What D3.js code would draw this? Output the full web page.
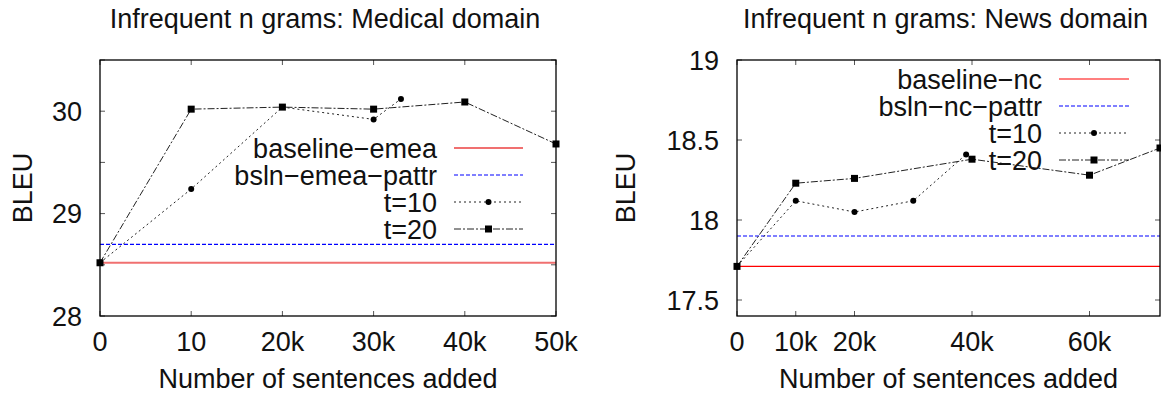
<!DOCTYPE html>
<html>
<head>
<meta charset="utf-8">
<script src="https://cdn.jsdelivr.net/npm/d3@7"></script>
<style>
  body { margin: 0; background: #fff; }
  svg text { font-family: "Liberation Sans", Arial, Helvetica, sans-serif; fill: #111; }
</style>
</head>
<body>
<svg id="chart" width="1161" height="399"></svg>
<script>
// Medical domain (EMEA)
const medX10 = [0, 10000, 20000, 30000, 33000];
const medT10 = [28.52, 29.24, 30.04, 29.92, 30.12];
const medX20 = [0, 10000, 20000, 30000, 40000, 50000];
const medT20 = [28.52, 30.02, 30.04, 30.02, 30.09, 29.68];
const medBaseline = 28.52;
const medPattr = 28.70;
const medXTicks = [0, 10000, 20000, 30000, 40000, 50000];
const medXLabels = ['0', '10', '20k', '30k', '40k', '50k'];
const medYTicks = [28, 28.5, 29, 29.5, 30, 30.5];
const medYLabels = ['28', '', '29', '', '30', ''];

// News domain (NC)
const newsX10 = [0, 10000, 20000, 30000, 39000];
const newsT10 = [17.71, 18.12, 18.05, 18.12, 18.41];
const newsX20 = [0, 10000, 20000, 40000, 60000, 72000];
const newsT20 = [17.71, 18.23, 18.26, 18.38, 18.28, 18.45];
const newsBaseline = 17.71;
const newsPattr = 17.90;
const newsXTicks = [0, 10000, 20000, 40000, 60000];
const newsXLabels = ['0', '10k', '20k', '40k', '60k'];
const newsYTicks = [17.5, 18, 18.5, 19];
const newsYLabels = ['17.5', '18', '18.5', '19'];

const svg = d3.select('#chart');
const FS = 27;

const panels = [
  {
    title: 'Infrequent n grams: Medical domain',
    left: 100, right: 556, top: 60, bottom: 316,
    xDomain: [0, 50000], yDomain: [28, 30.5],
    xTicks: medXTicks, xLabels: medXLabels,
    yTicks: medYTicks, yLabels: medYLabels,
    baseline: medBaseline, pattr: medPattr,
    baseColor: '#f07070', baseWidth: 2,
    t10: { x: medX10, y: medT10 }, t20: { x: medX20, y: medT20 },
    names: ['baseline\u2212emea', 'bsln\u2212emea\u2212pattr', 't=10', 't=20'],
    legend: { textX: 437, x1: 454, x2: 523, y0: 148, dy: 27 },
    yLabelX: 22
  },
  {
    title: 'Infrequent n grams: News domain',
    left: 737, right: 1160, top: 60, bottom: 316,
    xDomain: [0, 72000], yDomain: [17.4, 19],
    xTicks: newsXTicks, xLabels: newsXLabels,
    yTicks: newsYTicks, yLabels: newsYLabels,
    baseline: newsBaseline, pattr: newsPattr,
    baseColor: '#ff0000', baseWidth: 1.2,
    t10: { x: newsX10, y: newsT10 }, t20: { x: newsX20, y: newsT20 },
    names: ['baseline\u2212nc', 'bsln\u2212nc\u2212pattr', 't=10', 't=20'],
    legend: { textX: 1042, x1: 1059, x2: 1129, y0: 79, dy: 27 },
    yLabelX: 625
  }
];

const DOTTED = '2,3';
const DASHDOT = '7,2,2,2';

function drawPanel(p, idx) {
  const x = d3.scaleLinear().domain(p.xDomain).range([p.left, p.right]);
  const y = d3.scaleLinear().domain(p.yDomain).range([p.bottom, p.top]);
  const g = svg.append('g').attr('class', 'panel');

  const clipId = 'clip' + idx;
  g.append('clipPath').attr('id', clipId)
    .append('rect')
    .attr('x', p.left - 6).attr('y', p.top - 6)
    .attr('width', p.right - p.left + 12).attr('height', p.bottom - p.top + 12);

  // inward ticks on all four sides (gnuplot mirror)
  const tickLen = 5;
  const tickColor = '#555';
  g.selectAll('.xtick-b').data(p.xTicks).enter().append('line')
    .attr('x1', d => x(d)).attr('x2', d => x(d))
    .attr('y1', p.bottom).attr('y2', p.bottom - tickLen)
    .attr('stroke', tickColor);
  g.selectAll('.xtick-t').data(p.xTicks).enter().append('line')
    .attr('x1', d => x(d)).attr('x2', d => x(d))
    .attr('y1', p.top).attr('y2', p.top + tickLen)
    .attr('stroke', tickColor);
  g.selectAll('.ytick-l').data(p.yTicks).enter().append('line')
    .attr('x1', p.left).attr('x2', p.left + tickLen)
    .attr('y1', d => y(d)).attr('y2', d => y(d))
    .attr('stroke', tickColor);
  g.selectAll('.ytick-r').data(p.yTicks).enter().append('line')
    .attr('x1', p.right).attr('x2', p.right - tickLen)
    .attr('y1', d => y(d)).attr('y2', d => y(d))
    .attr('stroke', tickColor);

  // tick labels
  g.selectAll('.xlab').data(p.xTicks).enter().append('text')
    .attr('x', d => x(d)).attr('y', 351)
    .attr('text-anchor', 'middle').attr('font-size', FS)
    .text((d, i) => p.xLabels[i]);
  g.selectAll('.ylab').data(p.yTicks).enter().append('text')
    .attr('x', p.left - 18).attr('y', d => y(d) + 9.5)
    .attr('text-anchor', 'end').attr('font-size', FS)
    .text((d, i) => p.yLabels[i]);

  // titles
  g.append('text')
    .attr('x', (p.left + p.right) / 2 - 3).attr('y', 28)
    .attr('text-anchor', 'middle').attr('font-size', FS)
    .text(p.title);
  g.append('text')
    .attr('x', (p.left + p.right) / 2).attr('y', 388)
    .attr('text-anchor', 'middle').attr('font-size', FS)
    .text('Number of sentences added');
  g.append('text')
    .attr('transform', `translate(${p.yLabelX + 10},${(p.top + p.bottom) / 2}) rotate(-90)`)
    .attr('text-anchor', 'middle').attr('font-size', FS)
    .text('BLEU');

  const plot = g.append('g').attr('clip-path', `url(#${clipId})`);

  // horizontal reference lines
  plot.append('line')
    .attr('x1', p.left).attr('x2', p.right)
    .attr('y1', y(p.baseline)).attr('y2', y(p.baseline))
    .attr('stroke', p.baseColor).attr('stroke-width', p.baseWidth);
  plot.append('line')
    .attr('x1', p.left).attr('x2', p.right)
    .attr('y1', y(p.pattr)).attr('y2', y(p.pattr))
    .attr('stroke', '#0000ff').attr('stroke-width', 1.2)
    .attr('stroke-dasharray', '4,2');

  const line = d3.line().x(d => x(d[0])).y(d => y(d[1]));
  const pts10 = p.t10.x.map((v, i) => [v, p.t10.y[i]]);
  const pts20 = p.t20.x.map((v, i) => [v, p.t20.y[i]]);

  plot.append('path').datum(pts10)
    .attr('d', line).attr('fill', 'none')
    .attr('stroke', '#222').attr('stroke-width', 1)
    .attr('stroke-dasharray', DOTTED);
  plot.append('path').datum(pts20)
    .attr('d', line).attr('fill', 'none')
    .attr('stroke', '#222').attr('stroke-width', 1)
    .attr('stroke-dasharray', DASHDOT);

  plot.selectAll('.m10').data(pts10).enter().append('circle')
    .attr('cx', d => x(d[0])).attr('cy', d => y(d[1]))
    .attr('r', 3).attr('fill', '#000');
  plot.selectAll('.m20').data(pts20).enter().append('rect')
    .attr('x', d => x(d[0]) - 3.5).attr('y', d => y(d[1]) - 3.5)
    .attr('width', 7).attr('height', 7).attr('fill', '#000');

  // legend
  const L = p.legend;
  const styles = [
    { color: p.baseColor, width: p.baseWidth, dash: null, mark: null },
    { color: '#0000ff', width: 1.2, dash: '4,2', mark: null },
    { color: '#222', width: 1, dash: DOTTED, mark: 'circle' },
    { color: '#222', width: 1, dash: DASHDOT, mark: 'square' }
  ];
  p.names.forEach((name, i) => {
    const yy = L.y0 + i * L.dy;
    g.append('text')
      .attr('x', L.textX).attr('y', yy + 9.5)
      .attr('text-anchor', 'end').attr('font-size', FS)
      .text(name);
    const s = styles[i];
    g.append('line')
      .attr('x1', L.x1).attr('x2', L.x2).attr('y1', yy).attr('y2', yy)
      .attr('stroke', s.color).attr('stroke-width', s.width)
      .attr('stroke-dasharray', s.dash);
    const cx = (L.x1 + L.x2) / 2;
    if (s.mark === 'circle') {
      g.append('circle').attr('cx', cx).attr('cy', yy).attr('r', 3).attr('fill', '#000');
    } else if (s.mark === 'square') {
      g.append('rect').attr('x', cx - 3.5).attr('y', yy - 3.5)
        .attr('width', 7).attr('height', 7).attr('fill', '#000');
    }
  });

  // border
  g.append('rect')
    .attr('x', p.left).attr('y', p.top)
    .attr('width', p.right - p.left).attr('height', p.bottom - p.top)
    .attr('fill', 'none').attr('stroke', '#000').attr('stroke-width', 1.3);
}

panels.forEach(drawPanel);
</script>
</body>
</html>
